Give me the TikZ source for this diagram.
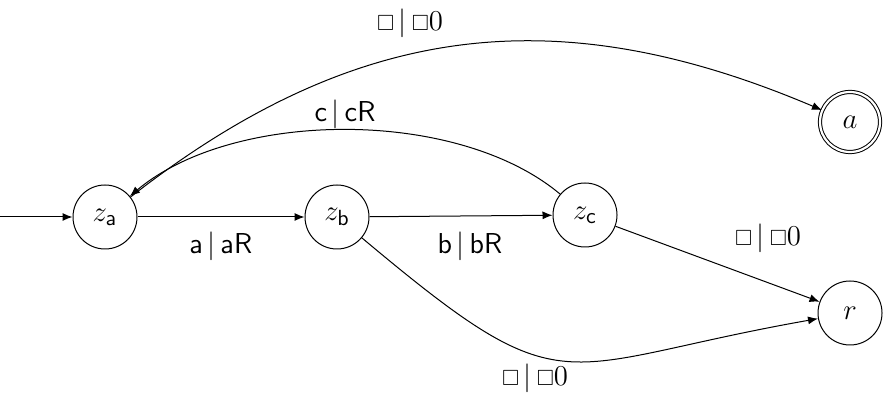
\documentclass[tikz,border=0pt]{standalone}
\usepackage{amssymb}
\usetikzlibrary{arrows.meta}
\newcommand{\blanksym}{{\fontsize{11}{13}\selectfont$\square$}}
\begin{document}
\begin{tikzpicture}[x=0.5pt,y=0.5pt,
  every node/.style={font=\fontsize{15}{18}\selectfont},
  st/.style={draw,circle,line width=0.5pt,minimum size=32pt,inner sep=0pt},
  acc/.style={st,double,double distance=1.1pt,minimum size=30pt},
  tr/.style={line width=0.5pt,-{Latex[length=5pt,width=4pt]}},
  lbl/.style={inner sep=1pt}]
\useasboundingbox (0,0) rectangle (886,395);
\node[st] (za) at (105,178) {$z_{\mathsf a}$};
\node[st] (zb) at (337,178) {$z_{\mathsf b}$};
\node[st] (zc) at (585,180) {$z_{\mathsf c}$};
\node[acc] (a) at (850,273) {$a$};
\node[st] (r) at (850,82) {$r$};
\coordinate (start) at (0,178);
\draw[tr] (start) -- (za);
\draw[tr] (za) -- (zb);
\draw[tr] (zb) -- (zc);
\draw[tr] (zc) -- (r);
\draw[tr] (za) to[out=38,in=157,looseness=1.05] (a);
\draw[tr] (zc) to[out=140,in=40,looseness=0.8] (za);
\draw[tr] (zb) to[out=-40,in=190,looseness=1.5] (r);
\node[lbl] (l1) at (221,149) {$\mathsf{a}\,|\,\mathsf{aR}$};
\node[lbl] (l2) at (470,149) {$\mathsf{b}\,|\,\mathsf{bR}$};
\node[lbl] (l3) at (345,281) {$\mathsf{c}\,|\,\mathsf{cR}$};
\node[lbl] (l4) at (410,372) {\blanksym$\,|\,$\blanksym$0$};
\node[lbl] (l5) at (768,157) {\blanksym$\,|\,$\blanksym$0$};
\node[lbl] (l6) at (535,17) {\blanksym$\,|\,$\blanksym$0$};
\end{tikzpicture}
\end{document}
